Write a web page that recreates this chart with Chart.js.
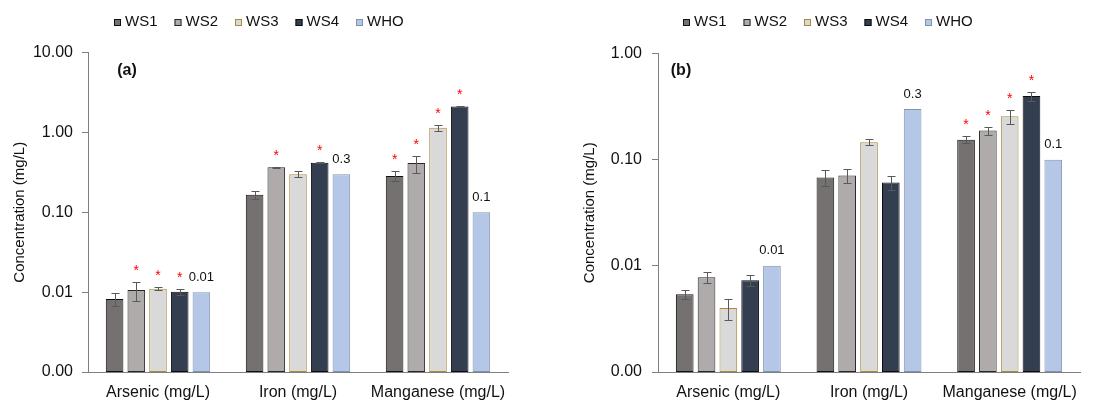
<!DOCTYPE html>
<html>
<head>
<meta charset="utf-8">
<script src="https://cdn.jsdelivr.net/npm/chart.js@4.4.0/dist/chart.umd.min.js"></script>
<style>
  html, body { margin: 0; padding: 0; background: #fff; }
  .wrap { display: flex; width: 1114px; height: 403px; }
  canvas { display: block; }
</style>
</head>
<body>
<div class="wrap">
  <canvas id="chartA" width="557" height="403"></canvas>
  <canvas id="chartB" width="557" height="403"></canvas>
</div>
<script>
// categories and series
const categories = ['Arsenic (mg/L)', 'Iron (mg/L)', 'Manganese (mg/L)'];
const seriesNames = ['WS1', 'WS2', 'WS3', 'WS4', 'WHO'];

// panel (a)
const aTicks = [0.001, 0.01, 0.1, 1, 10];
const aWS1 = [0.0082, 0.166, 0.284];
const aWS2 = [0.0106, 0.365, 0.413];
const aWS3 = [0.0110, 0.300, 1.145];
const aWS4 = [0.0101, 0.418, 2.11];
const aWHO = [0.01, 0.3, 0.1];
const aWS1Err = [0.0015, 0.021, 0.041];
const aWS2Err = [0.0028, 0.005, 0.10];
const aWS3Err = [0.0005, 0.025, 0.09];
const aWS4Err = [0.0009, 0.010, 0.03];
const aWS1Star = [0, 0, 1];
const aWS2Star = [1, 1, 1];
const aWS3Star = [1, 0, 1];
const aWS4Star = [1, 1, 1];
const aWHOLabels = ['0.01', '0.3', '0.1'];

// panel (b)
const bTicks = [0.001, 0.01, 0.1, 1];
const bWS1 = [0.0054, 0.068, 0.154];
const bWS2 = [0.0078, 0.071, 0.188];
const bWS3 = [0.0040, 0.146, 0.257];
const bWS4 = [0.0073, 0.061, 0.397];
const bWHO = [0.01, 0.3, 0.1];
const bWS1Err = [0.0005, 0.012, 0.012];
const bWS2Err = [0.0009, 0.011, 0.017];
const bWS3Err = [0.0009, 0.010, 0.038];
const bWS4Err = [0.0009, 0.009, 0.040];
const bWS1Star = [0, 0, 1];
const bWS2Star = [0, 0, 1];
const bWS3Star = [0, 0, 1];
const bWS4Star = [0, 0, 1];
const bWHOLabels = ['0.01', '0.3', '0.1'];

const fills = ['#767171', '#AFABAB', '#D9D9D9', '#333F50', '#B4C7E7'];
const borders = ['#111111', '#262626', '#A88B3A', '#0D0D0D', '#7F93AE'];

Chart.defaults.font.family = "'Liberation Sans', Arial, sans-serif";
Chart.defaults.color = '#111';

// error bars, asterisks, WHO labels, legend and panel tag
const extras = {
  id: 'extras',
  afterDatasetsDraw(chart, args, opts) {
    const ctx = chart.ctx;
    const y = chart.scales.y;
    ctx.save();
    chart.data.datasets.forEach((ds, i) => {
      const meta = chart.getDatasetMeta(i);
      meta.data.forEach((bar, j) => {
        const v = ds.data[j];
        const err = ds.errors ? ds.errors[j] : 0;
        const x = Math.round(bar.x) + 0.5;
        let top = y.getPixelForValue(v);
        if (err) {
          const hi = Math.round(y.getPixelForValue(v + err)) + 0.5;
          const lo = Math.round(y.getPixelForValue(v - err)) + 0.5;
          ctx.strokeStyle = '#595959';
          ctx.lineWidth = 1;
          ctx.beginPath();
          ctx.moveTo(x, hi); ctx.lineTo(x, lo);
          ctx.moveTo(x - 4, hi); ctx.lineTo(x + 4, hi);
          ctx.moveTo(x - 4, lo); ctx.lineTo(x + 4, lo);
          ctx.stroke();
          top = hi;
        }
        if (ds.stars && ds.stars[j]) {
          ctx.fillStyle = '#FF0000';
          ctx.font = "14px 'Liberation Sans', Arial, sans-serif";
          ctx.textAlign = 'center';
          ctx.textBaseline = 'alphabetic';
          ctx.fillText('*', bar.x, top - 16 + 8);
        }
        if (ds.topLabels) {
          ctx.fillStyle = '#111';
          ctx.font = "13px 'Liberation Sans', Arial, sans-serif";
          ctx.textAlign = 'center';
          ctx.textBaseline = 'middle';
          ctx.fillText(ds.topLabels[j], bar.x, y.getPixelForValue(v) - 15);
        }
      });
    });

    // legend
    ctx.font = "15px 'Liberation Sans', Arial, sans-serif";
    ctx.textAlign = 'left';
    ctx.textBaseline = 'middle';
    let lx = opts.legendX;
    const ly = 22;
    chart.data.datasets.forEach(ds => {
      ctx.fillStyle = ds.backgroundColor;
      ctx.fillRect(lx, ly - 3, 7, 7);
      ctx.strokeStyle = ds.borderColor;
      ctx.lineWidth = 1;
      ctx.strokeRect(lx + 0.5, ly - 2.5, 6, 6);
      ctx.fillStyle = '#111';
      ctx.fillText(ds.label, lx + 11, ly);
      lx += 11 + ctx.measureText(ds.label).width + 17;
    });

    // panel tag
    ctx.font = "bold 16px 'Liberation Sans', Arial, sans-serif";
    ctx.textAlign = 'center';
    ctx.fillStyle = '#111';
    ctx.fillText(opts.tag, opts.tagX, 71);
    ctx.restore();
  }
};

function makeChart(id, p) {
  const values = [p.ws1, p.ws2, p.ws3, p.ws4, p.who];
  const errs = [p.ws1Err, p.ws2Err, p.ws3Err, p.ws4Err, null];
  const stars = [p.ws1Star, p.ws2Star, p.ws3Star, p.ws4Star, null];
  const datasets = seriesNames.map((name, i) => ({
    label: name,
    data: values[i],
    errors: errs[i],
    stars: stars[i],
    topLabels: i === 4 ? p.whoLabels : null,
    backgroundColor: fills[i],
    borderColor: borders[i],
    borderWidth: 1,
    borderSkipped: false,
    categoryPercentage: 0.775,
    barPercentage: 0.81
  }));

  return new Chart(document.getElementById(id), {
    type: 'bar',
    data: { labels: categories, datasets: datasets },
    plugins: [extras],
    options: {
      responsive: false,
      animation: false,
      layout: { padding: { top: p.top, right: p.right, bottom: 0, left: 0 } },
      plugins: {
        legend: { display: false },
        tooltip: { enabled: false },
        extras: { legendX: p.legendX, tag: p.tag, tagX: p.tagX }
      },
      scales: {
        x: {
          grid: { display: false, drawTicks: false },
          border: { display: true, color: '#7F7F7F' },
          ticks: { font: { size: 16 }, padding: 11, color: '#111',
                   maxRotation: 0, minRotation: 0, autoSkip: false },
          afterFit: s => { s.height = 31; }
        },
        y: {
          type: 'logarithmic',
          min: p.ticks[0],
          max: p.ticks[p.ticks.length - 1],
          afterBuildTicks: s => { s.ticks = p.ticks.map(v => ({ value: v })); },
          grid: { drawOnChartArea: false, drawTicks: true, tickLength: 6, color: '#7F7F7F' },
          border: { display: true, color: '#7F7F7F' },
          ticks: {
            font: { size: 16 },
            padding: p.tickPad,
            color: '#111',
            callback: v => Number(v).toFixed(2)
          },
          title: {
            display: true,
            text: 'Concentration (mg/L)',
            font: { size: 15 },
            color: '#111',
            padding: { top: p.titlePad, bottom: 0 }
          },
          afterFit: s => { s.width = p.yWidth; }
        }
      }
    }
  });
}

makeChart('chartA', {
  ws1: aWS1, ws2: aWS2, ws3: aWS3, ws4: aWS4, who: aWHO,
  ws1Err: aWS1Err, ws2Err: aWS2Err, ws3Err: aWS3Err, ws4Err: aWS4Err,
  ws1Star: aWS1Star, ws2Star: aWS2Star, ws3Star: aWS3Star, ws4Star: aWS4Star,
  whoLabels: aWHOLabels, ticks: aTicks,
  top: 52.5, right: 49, yWidth: 88, tickPad: 9, titlePad: 11,
  legendX: 114, tag: '(a)', tagX: 127
});

makeChart('chartB', {
  ws1: bWS1, ws2: bWS2, ws3: bWS3, ws4: bWS4, who: bWHO,
  ws1Err: bWS1Err, ws2Err: bWS2Err, ws3Err: bWS3Err, ws4Err: bWS4Err,
  ws1Star: bWS1Star, ws2Star: bWS2Star, ws3Star: bWS3Star, ws4Star: bWS4Star,
  whoLabels: bWHOLabels, ticks: bTicks,
  top: 53.5, right: 34, yWidth: 101, tickPad: 10, titlePad: 24,
  legendX: 126, tag: '(b)', tagX: 124
});
</script>
</body>
</html>
